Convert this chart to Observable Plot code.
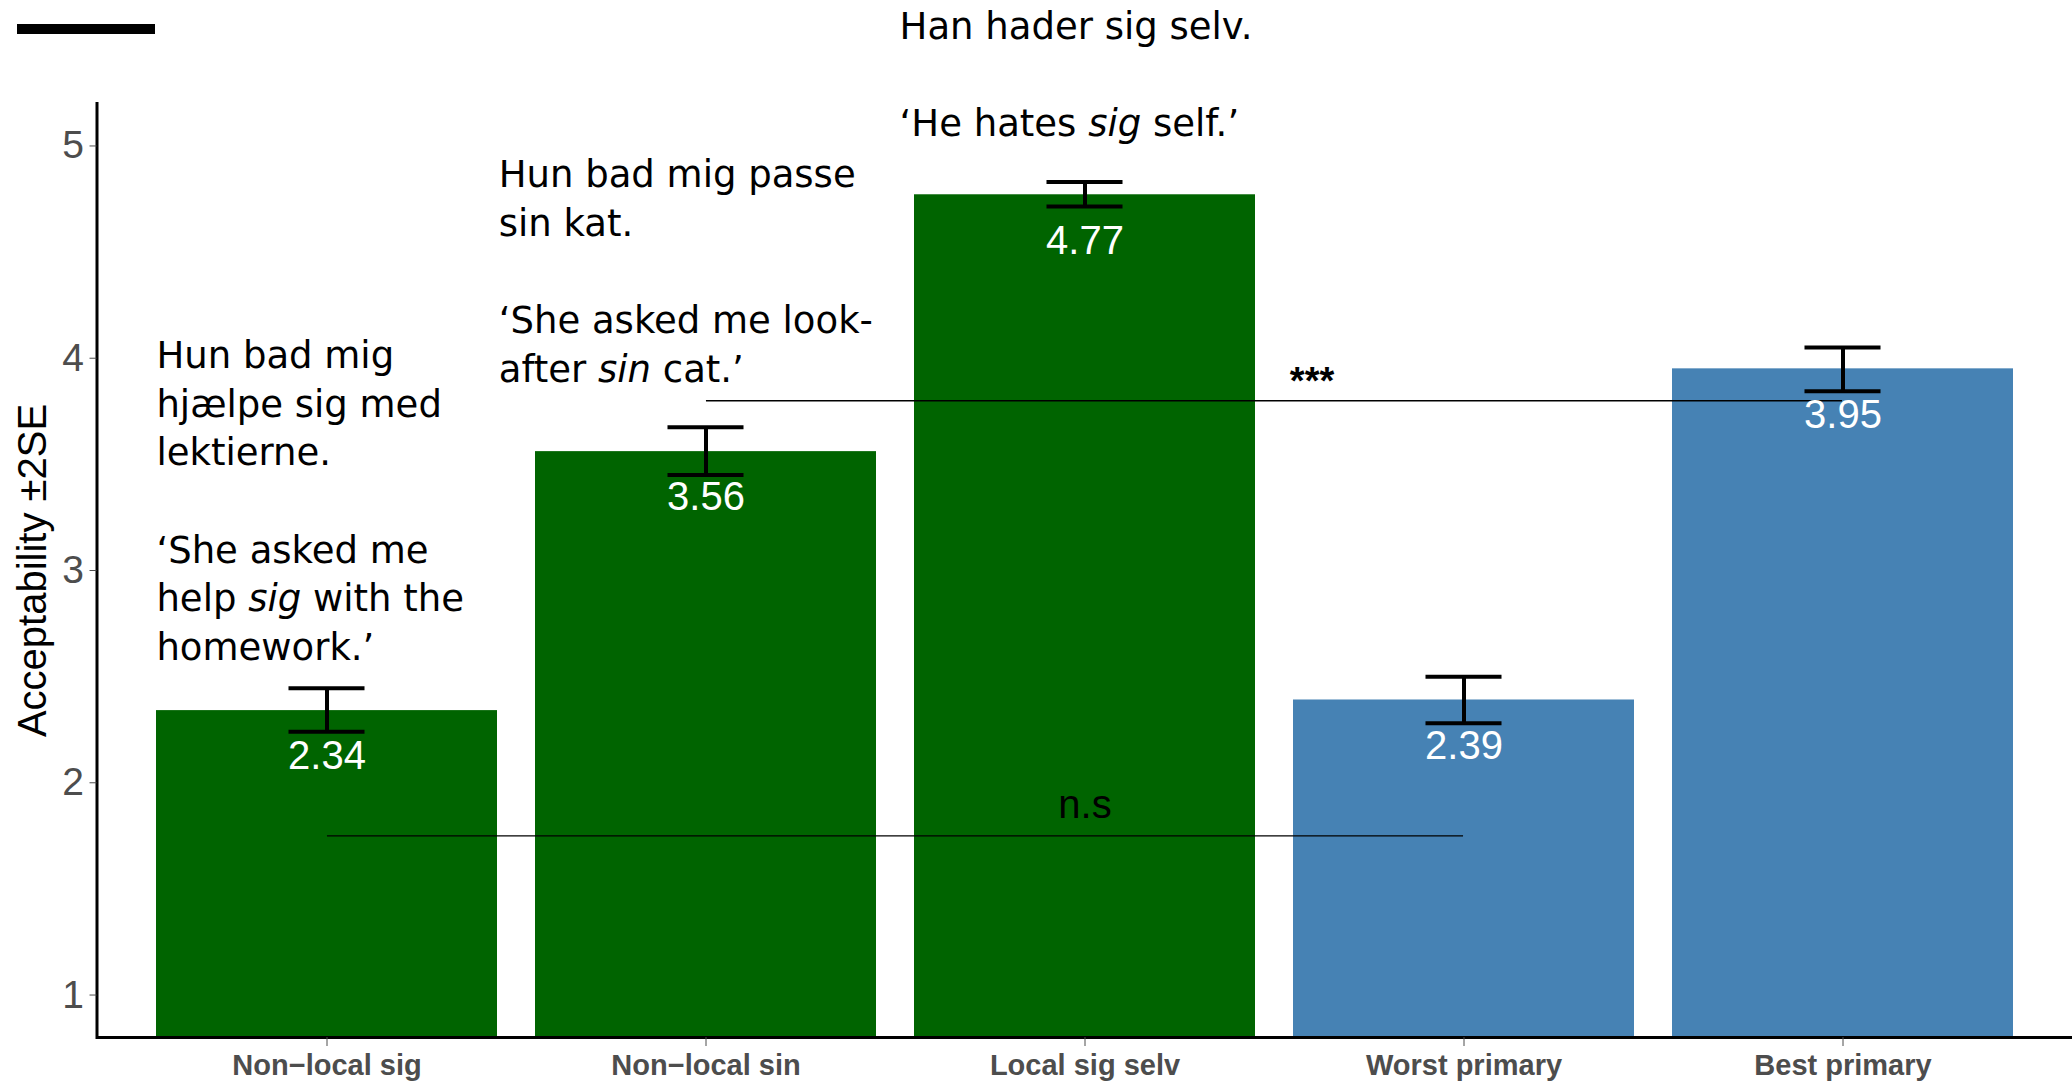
<!DOCTYPE html>
<html><head><meta charset="utf-8">
<script src="https://cdn.jsdelivr.net/npm/d3@7"></script>
<script src="https://cdn.jsdelivr.net/npm/@observablehq/plot@0.6"></script>
<style>
html,body{margin:0;padding:0;background:#fff;}
#wrap{position:relative;width:2072px;height:1082px;overflow:hidden;background:#fff;}
#wrap svg{position:absolute;left:0;top:0;}
#legendbar{position:absolute;left:17px;top:24px;width:138px;height:10px;background:#000;z-index:2;}
</style></head><body>
<div id="wrap"><div id="legendbar"></div></div>
<script>
// ---- data ----
const categories = ["Non\u2212local sig", "Non\u2212local sin", "Local sig selv", "Worst primary", "Best primary"];
const groups = ["Reflexive", "Reflexive", "Reflexive", "Primary", "Primary"];
const means = [2.34, 3.56, 4.77, 2.39, 3.95];
const errLow = [2.24, 3.45, 4.715, 2.28, 3.845];
const errHigh = [2.445, 3.675, 4.83, 2.50, 4.05];
const yTicks = [1, 2, 3, 4, 5];
const yDomain = [0.8, 5.2];
const yTitle = "Acceptability \u00b12SE";

// example sentences (x in category units 1..5, like ggplot annotate)
const noteText = [
  "Hun bad mig\nhjælpe sig med\nlektierne.\n\n\u2018She asked me\nhelp _sig_ with the\nhomework.\u2019",
  "Hun bad mig passe\nsin kat.\n\n\u2018She asked me look-\nafter _sin_ cat.\u2019",
  "Han hader sig selv.\n\n\u2018He hates _sig_ self.\u2019"
];
const noteX = [0.551, 1.452, 2.512];
const noteY = [4.117, 4.97, 5.668];

// significance brackets
const sigFrom = [2, 1];
const sigTo = [5, 4];
const sigY = [3.80, 1.75];
const sigLabel = ["***", "n.s"];
const sigLabelX = [3.6, 3.0];
const sigLabelY = [3.889, 1.894];

// ---- layout ----
const W = 2072, H = 1082, ml = 96.5, mr = 0, mt = 103, mb = 45;
const padIn = 0.1, padOut = 0.15;
const step = (W - ml - mr) / (categories.length - padIn + 2 * padOut);
const bw = step * (1 - padIn);
const capW = 0.225 * bw;

const rows = categories.map((c, i) => ({cat: c, group: groups[i], mean: means[i], lo: errLow[i], hi: errHigh[i]}));
const sigs = sigFrom.map((f, i) => ({from: categories[f - 1], to: categories[sigTo[i] - 1], y: sigY[i]}));

function anchorAt(xu) {
  const k = Math.round(xu);
  return {cat: categories[k - 1], dx: (xu - k) * step};
}

const noteMarks = noteText.map((t, i) => {
  const a = anchorAt(noteX[i]);
  return Plot.text([t], {
    x: () => a.cat, y: () => noteY[i], text: d => d, dx: a.dx,
    textAnchor: "start", lineAnchor: "top", lineHeight: 1.316,
    fontSize: 37, fontFamily: "DejaVu Sans", fill: "black"
  });
});

const sigLabelMarks = sigLabel.map((s, i) => {
  const a = anchorAt(sigLabelX[i]);
  return Plot.text([s], {
    x: () => a.cat, y: () => sigLabelY[i], text: d => d, dx: a.dx,
    fontSize: i === 0 ? 38 : 40, fontWeight: i === 0 ? "bold" : "normal",
    fill: "black", lineAnchor: "middle"
  });
});

const chart = Plot.plot({
  width: W, height: H,
  marginLeft: ml, marginRight: mr, marginTop: mt, marginBottom: mb,
  style: {fontFamily: "'Liberation Sans', Arial, sans-serif", background: "white", overflow: "visible"},
  x: {domain: categories, paddingInner: padIn, paddingOuter: padOut, label: null},
  y: {domain: yDomain, label: null},
  color: {domain: ["Reflexive", "Primary"], range: ["#006400", "#4682B4"]},
  marks: [
    Plot.barY(rows, {x: "cat", y1: yDomain[0], y2: "mean", fill: "group"}),
    Plot.ruleX(rows, {x: "cat", y1: "lo", y2: "hi", stroke: "black", strokeWidth: 4}),
    Plot.tickY(rows, {x: "cat", y: "lo", stroke: "black", strokeWidth: 4, insetLeft: (bw - capW) / 2, insetRight: (bw - capW) / 2}),
    Plot.tickY(rows, {x: "cat", y: "hi", stroke: "black", strokeWidth: 4, insetLeft: (bw - capW) / 2, insetRight: (bw - capW) / 2}),
    Plot.ruleY(sigs, {x1: "from", x2: "to", y: "y", insetLeft: bw / 2, insetRight: bw / 2, stroke: "black", strokeWidth: 1.4}),
    Plot.text(rows, {x: "cat", y: "mean", text: d => d.mean.toFixed(2), dy: 46, fill: "white", fontSize: 40, lineAnchor: "middle"}),
    ...sigLabelMarks,
    ...noteMarks,
    Plot.ruleY([yDomain[0]], {stroke: "black", strokeWidth: 3}),
    Plot.frame({anchor: "left", stroke: "black", strokeWidth: 3}),
    Plot.axisY({ticks: yTicks, tickFormat: d3.format("d"), tickSize: 7, tickPadding: 6, fontSize: 39, color: "#4D4D4D", label: null}),
    Plot.axisY({ticks: [], tickSize: 0, label: yTitle, labelAnchor: "center", labelArrow: "none", labelOffset: 79, fontSize: 40, color: "black"}),
    Plot.axisX({tickSize: 9, tickPadding: 8, fontSize: 29, fontWeight: "bold", color: "#4D4D4D", label: null})
  ]
});

// italicise words marked _like this_
for (const t of chart.querySelectorAll("tspan, text")) {
  if (t.children.length) continue;
  const s = t.textContent;
  if (!/_[^_]+_/.test(s)) continue;
  t.textContent = "";
  s.split(/(_[^_]+_)/).forEach(part => {
    if (!part) return;
    if (/^_[^_]+_$/.test(part)) {
      const it = document.createElementNS("http://www.w3.org/2000/svg", "tspan");
      it.setAttribute("font-style", "italic");
      it.textContent = part.slice(1, -1);
      t.appendChild(it);
    } else t.appendChild(document.createTextNode(part));
  });
}

document.getElementById("wrap").appendChild(chart);
</script>
</body></html>
